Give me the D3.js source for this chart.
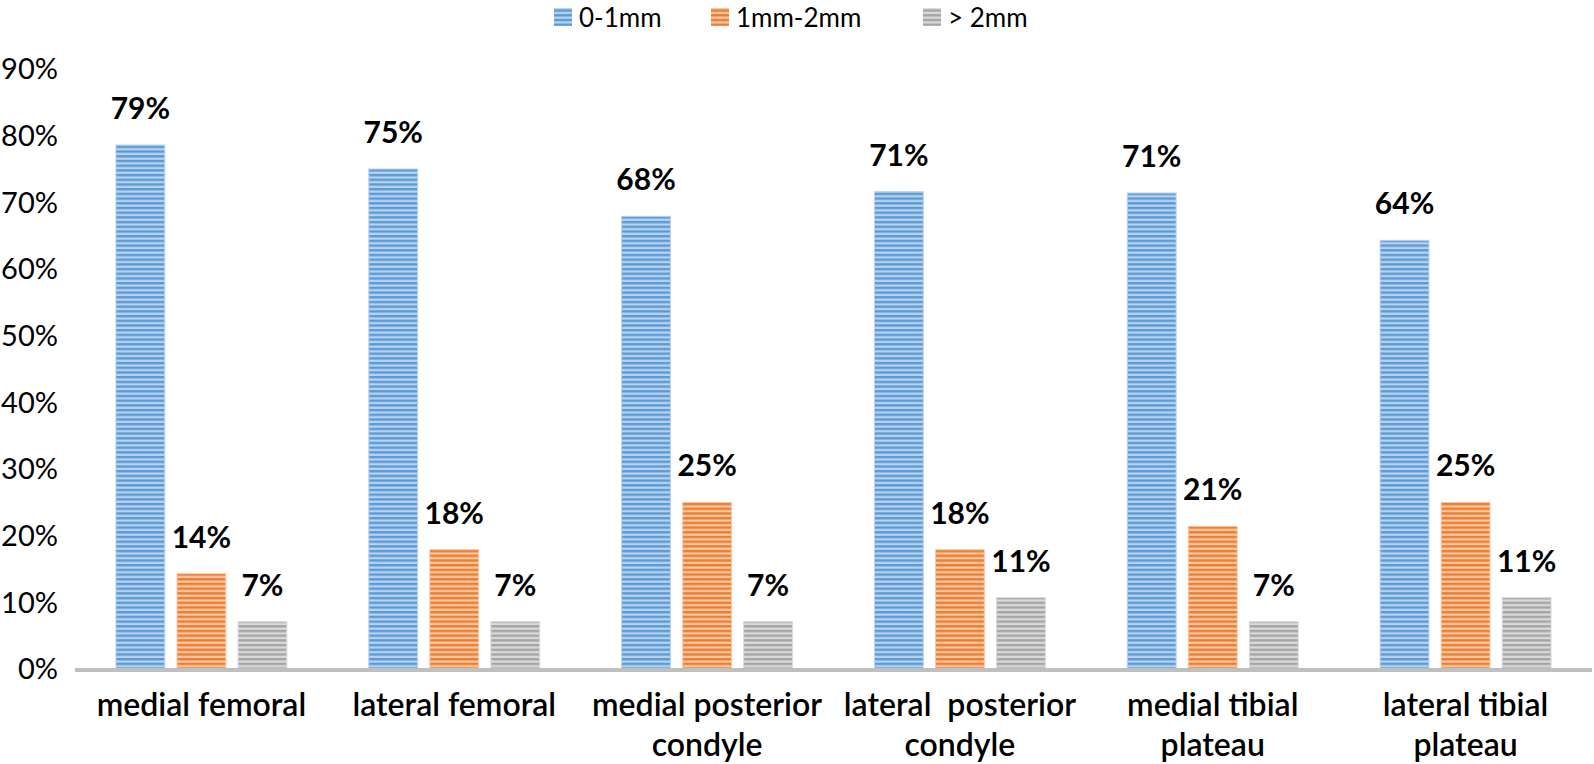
<!DOCTYPE html>
<html><head><meta charset="utf-8">
<script src="https://cdn.jsdelivr.net/npm/d3@7"></script>
<style>
html,body{margin:0;padding:0;background:#fff;}
svg{display:block;}
text{font-family:Lato,"Open Sans",sans-serif;fill:#000;}
</style></head>
<body>
<svg id="chart" width="1594" height="764"></svg>
<script>
const categories = [["medial femoral"],["lateral femoral"],["medial posterior","condyle"],["lateral  posterior","condyle"],["medial tibial","plateau"],["lateral tibial","plateau"]];
const seriesNames = ["0-1mm","1mm-2mm","> 2mm"];
const s0 = [78.6, 75.0, 67.9, 71.6, 71.4, 64.3];
const s1 = [14.3, 17.9, 25.0, 17.9, 21.4, 25.0];
const s2 = [7.1, 7.1, 7.1, 10.7, 7.1, 10.7];
const labels0 = ["79%","75%","68%","71%","71%","64%"];
const labels1 = ["14%","18%","25%","18%","21%","25%"];
const labels2 = ["7%","7%","7%","11%","7%","11%"];
const yTicks = [0,10,20,30,40,50,60,70,80,90];

const series = [s0,s1,s2];
const seriesLabels = [labels0,labels1,labels2];
const dark = ["#5b9bd5","#ed7d31","#a5a5a5"];
const light = ["#b8d2ef","#f8c7a4","#dadada"];

const svg = d3.select("#chart");
const m = {left:75, right:2};
const W = 1594;
const x0 = d3.scaleBand().domain(d3.range(categories.length)).range([m.left, W-m.right]).paddingInner(0.324).paddingOuter(0.162);
const x1 = d3.scaleBand().domain(d3.range(3)).range([0, x0.bandwidth()]).paddingInner(0.2);
const y = d3.scaleLinear().domain([0,90]).range([669, 69]);

const defs = svg.append("defs");
dark.forEach((c,i)=>{
  const p = defs.append("pattern").attr("id","pat"+i).attr("patternUnits","userSpaceOnUse")
    .attr("width",10).attr("height",4.7);
  p.append("rect").attr("width",10).attr("height",4.7).attr("fill",light[i]);
  p.append("rect").attr("y",0).attr("width",10).attr("height",2.4).attr("fill",c);
});

// y tick labels
svg.append("g").selectAll("text").data(yTicks).join("text")
  .attr("x",58).attr("y",d=>y(d)).attr("dy","0.36em").attr("text-anchor","end")
  .style("font-size","29px").text(d=>d+"%");

// bars
const g = svg.append("g");
series.forEach((s,si)=>{
  g.selectAll(".b"+si).data(s).join("rect")
    .attr("x",(d,i)=>x0(i)+x1(si)).attr("width",x1.bandwidth())
    .attr("y",d=>y(d)).attr("height",d=>y(0)-y(d))
    .attr("fill","url(#pat"+si+")").attr("stroke",light[si]).attr("stroke-width",1);
  g.selectAll(".l"+si).data(s).join("text")
    .attr("x",(d,i)=>x0(i)+x1(si)+x1.bandwidth()/2).attr("y",d=>y(d)-26)
    .attr("text-anchor","middle").style("font-size","30px").style("font-weight","700")
    .text((d,i)=>seriesLabels[si][i]);
});

// axis line
svg.append("line").attr("x1",m.left).attr("x2",W-m.right).attr("y1",y(0)+1).attr("y2",y(0)+1)
  .attr("stroke","#bfbfbf").attr("stroke-width",4);

// category labels
const cg = svg.append("g");
categories.forEach((c,i)=>{
  const t = cg.append("text").attr("x",x0(i)+x0.bandwidth()/2).attr("y",716)
    .attr("text-anchor","middle").attr("xml:space","preserve")
    .style("font-size","32px").style("font-weight","600");
  c.forEach((line,li)=>{
    t.append("tspan").attr("x",x0(i)+x0.bandwidth()/2).attr("y",716+li*40).text(line);
  });
});

// legend
const leg = svg.append("g");
const legX = [554, 711, 923];
seriesNames.forEach((n,i)=>{
  leg.append("rect").attr("x",legX[i]).attr("y",8).attr("width",18).attr("height",18).attr("fill","url(#pat"+i+")");
  leg.append("text").attr("x",legX[i]+25).attr("y",27).style("font-size","26px").text(n);
});
</script>
</body></html>
